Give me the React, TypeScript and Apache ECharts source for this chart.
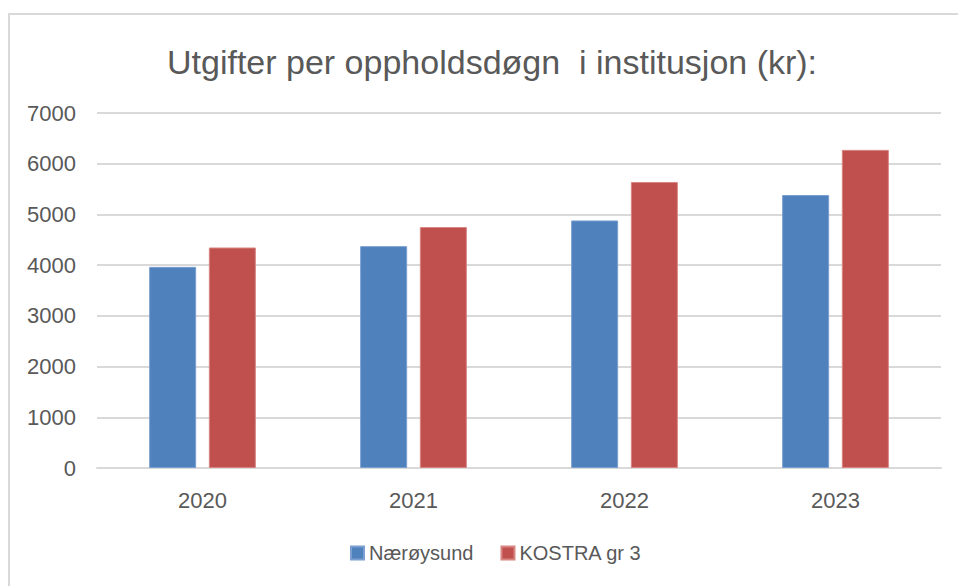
import React, { useEffect, useRef } from "react";
import * as echarts from "echarts";

const categories = ["2020", "2021", "2022", "2023"];
const naeroysund = [3966, 4375, 4881, 5383];
const kostra = [4348, 4751, 5640, 6273];
const seriesNames = ["Nærøysund", "KOSTRA gr 3"];
const titleText = "Utgifter per oppholdsdøgn  i institusjon (kr):";

const FONT = "'Liberation Sans', Arial, sans-serif";
const TEXT = "#595959";

export default function App() {
  const ref = useRef<HTMLDivElement>(null);
  useEffect(() => {
    if (!ref.current) return;
    const chart = echarts.init(ref.current, undefined, { renderer: "svg" });
    chart.setOption({
      animation: false,
      backgroundColor: "#ffffff",
      textStyle: { fontFamily: FONT },
      title: {
        text: titleText,
        left: 162,
        top: 40,
        textStyle: { fontFamily: FONT, fontSize: 34, fontWeight: "normal", color: TEXT },
      },
      graphic: [
        {
          type: "rect",
          shape: { x: 9, y: 14, width: 1200, height: 1000 },
          style: { fill: "none", stroke: "#d9d9d9", lineWidth: 2 },
          silent: true,
        },
      ],
      legend: {
        left: 345,
        top: 538,
        itemWidth: 13,
        itemHeight: 13,
        itemGap: 27,
        icon: "rect",
        textStyle: { fontFamily: FONT, fontSize: 20, color: TEXT },
        data: seriesNames,
      },
      grid: { left: 97, right: 17, top: 113, bottom: 118, containLabel: false },
      xAxis: {
        type: "category",
        data: categories,
        axisLine: { show: true, lineStyle: { color: "#d9d9d9", width: 2 } },
        axisTick: { show: false },
        axisLabel: { margin: 21, fontFamily: FONT, fontSize: 22, color: TEXT },
      },
      yAxis: {
        type: "value",
        min: 0,
        max: 7000,
        interval: 1000,
        axisLine: { show: false },
        axisTick: { show: false },
        axisLabel: {
          margin: 21,
          fontFamily: FONT,
          fontSize: 22,
          color: TEXT,
          formatter: (v: number) => String(v),
        },
        splitLine: { lineStyle: { color: "#d9d9d9", width: 2 } },
      },
      series: [
        {
          name: seriesNames[0],
          type: "bar",
          data: naeroysund,
          barWidth: 47,
          barGap: "27%",
          itemStyle: { color: "#4f81bd", borderColor: "#7a9fd0", borderWidth: 1 },
        },
        {
          name: seriesNames[1],
          type: "bar",
          data: kostra,
          barWidth: 47,
          barGap: "27%",
          itemStyle: { color: "#c0504d", borderColor: "#d98683", borderWidth: 1 },
        },
      ],
    });
    return () => chart.dispose();
  }, []);
  return (
    <div
      ref={ref}
      style={{ position: "fixed", left: 0, top: 0, width: 958, height: 586, background: "#fff" }}
    />
  );
}
